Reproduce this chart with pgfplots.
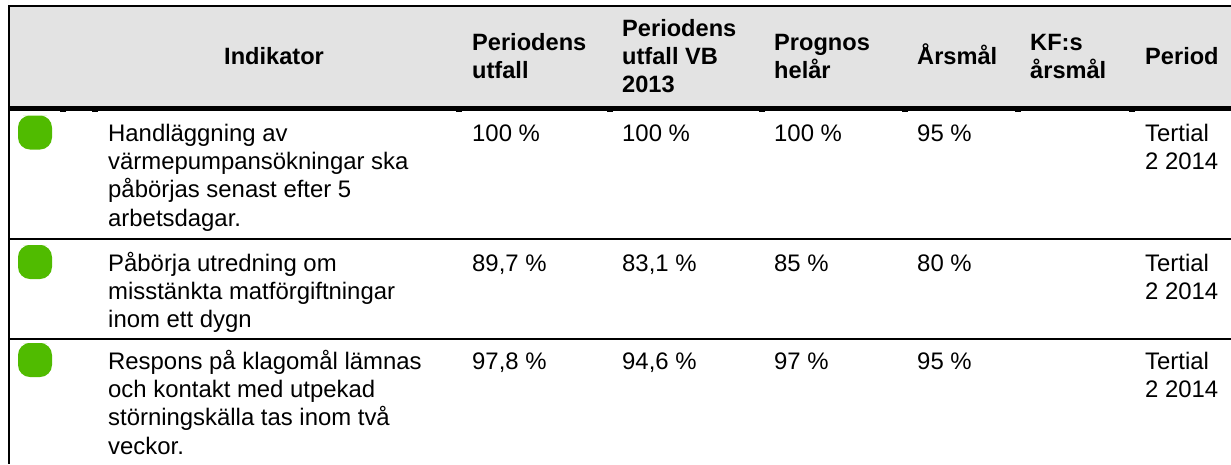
\documentclass[border=0pt]{standalone}
\usepackage{fontspec}
\setmainfont{Liberation Sans}
\usepackage{pgfplots}
\pgfplotsset{compat=1.18}
\definecolor{headgray}{HTML}{E3E3E3}
\definecolor{okgreen}{HTML}{50BB00}
\pgfdeclareplotmark{statusdot}{%
  \pgfsetcornersarced{\pgfpoint{12pt}{12pt}}%
  \pgfpathmoveto{\pgfpoint{0pt}{17pt}}%
  \pgfpathlineto{\pgfpoint{17pt}{17pt}}%
  \pgfpathlineto{\pgfpoint{17pt}{-17pt}}%
  \pgfpathlineto{\pgfpoint{-17pt}{-17pt}}%
  \pgfpathlineto{\pgfpoint{-17pt}{17pt}}%
  \pgfpathclose
  \pgfusepath{fill}}
\newcommand{\cell}[3]{\node[anchor=base west,inner sep=0pt,font=\fontsize{23.9}{28.2}\selectfont] at (axis cs:#1,#2) {\begin{tabular}[t]{@{}l@{}}#3\end{tabular}};}
\newcommand{\head}[3]{\node[anchor=base west,inner sep=0pt,font=\fontsize{23.6}{28.2}\selectfont\bfseries] at (axis cs:#1,#2) {\begin{tabular}[t]{@{}l@{}}#3\end{tabular}};}
\begin{document}
\begin{tikzpicture}
\begin{axis}[
  scale only axis, width=1231pt, height=464pt,
  xmin=0, xmax=1231, ymin=0, ymax=464, y dir=reverse,
  hide axis, clip=true,
]
% full page, then header band
\addplot[draw=none, fill=white, forget plot] coordinates {(0,0) (1231,0) (1231,464) (0,464)} \closedcycle;
\addplot[draw=none, fill=headgray, forget plot] coordinates {(8,6) (1231,6) (1231,107) (8,107)} \closedcycle;
% rules
\addplot[black, line width=2pt, forget plot] coordinates {(8,6) (1231,6)};
\addplot[black, line width=5pt, forget plot] coordinates {(8,108.5) (1231,108.5)};
\addplot[black, line width=2pt, forget plot] coordinates {(8,238.5) (1231,238.5)};
\addplot[black, line width=2pt, forget plot] coordinates {(8,339) (1231,339)};
\addplot[black, line width=2pt, forget plot] coordinates {(9,5) (9,464)};
% column stubs under the thick rule
\addplot[only marks, mark=-, mark size=3pt, mark options={black, line width=2pt}, forget plot]
  coordinates {(63,111) (95,111) (459,111) (610,111) (762,111) (905,111) (1018,111) (1132,111)};
% status
\addplot[only marks, mark=statusdot, color=okgreen, forget plot] coordinates {(35,132.5) (35,262) (35,360)};
% header
\head{224}{64}{Indikator}
\head{472}{50}{Periodens\\utfall}
\head{622}{36}{Periodens\\utfall VB\\2013}
\head{774}{50}{Prognos\\helår}
\head{917}{64}{Årsmål}
\head{1030}{50}{KF:s\\årsmål}
\head{1145}{64}{Period}
% row 1
\cell{108}{141.5}{Handläggning av\\värmepumpansökningar ska\\påbörjas senast efter 5\\arbetsdagar.}
\cell{472}{141.5}{100 \%}
\cell{622}{141.5}{100 \%}
\cell{774}{141.5}{100 \%}
\cell{917}{141.5}{95 \%}
\cell{1145}{141.5}{Tertial\\2 2014}
% row 2
\cell{108}{271}{Påbörja utredning om\\misstänkta matförgiftningar\\inom ett dygn}
\cell{472}{271}{89,7 \%}
\cell{622}{271}{83,1 \%}
\cell{774}{271}{85 \%}
\cell{917}{271}{80 \%}
\cell{1145}{271}{Tertial\\2 2014}
% row 3
\cell{108}{369.5}{Respons på klagomål lämnas\\och kontakt med utpekad\\störningskälla tas inom två\\veckor.}
\cell{472}{369.5}{97,8 \%}
\cell{622}{369.5}{94,6 \%}
\cell{774}{369.5}{97 \%}
\cell{917}{369.5}{95 \%}
\cell{1145}{369.5}{Tertial\\2 2014}
\end{axis}
\end{tikzpicture}
\end{document}
